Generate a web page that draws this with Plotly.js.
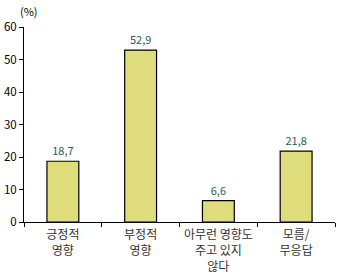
<!DOCTYPE html>
<html>
<head>
<meta charset="utf-8">
<script src="https://cdn.plot.ly/plotly-3.0.1.min.js"></script>
<style>html,body{margin:0;padding:0;background:#fff;}#chart{width:340px;height:275px;}</style>
</head>
<body>
<div id="chart"></div>
<script>
var categories = ["긍정적<br>영향", "부정적<br>영향", "아무런 영향도<br>주고 있지<br>않다", "모름/<br>무응답"];
var values = [18.7, 52.9, 6.6, 21.8];
var yTicks = [0, 10, 20, 30, 40, 50, 60];

var font = "Noto Sans CJK KR, DejaVu Sans, sans-serif";

Plotly.newPlot("chart", [{
  type: "bar",
  x: categories,
  y: values,
  marker: {color: "#DEDC7B", line: {color: "#000", width: 1.2}},
  texttemplate: "%{y:.1f}",
  textposition: "outside",
  cliponaxis: false,
  textfont: {family: font, size: 11, color: "#275d55"},
  hoverinfo: "none"
}], {
  width: 340, height: 275,
  margin: {l: 24, r: 5, t: 27, b: 53},
  separators: ", ",
  bargap: 0.59,
  paper_bgcolor: "#fff", plot_bgcolor: "#fff",
  showlegend: false,
  font: {family: font, size: 12, color: "#333"},
  xaxis: {
    type: "category",
    tickson: "boundaries",
    tickangle: 0,
    automargin: false,
    ticklabelstandoff: 2,
    ticks: "outside", ticklen: 4, tickcolor: "#000",
    showline: true, linecolor: "#000", linewidth: 1,
    showgrid: false, zeroline: false,
    tickfont: {family: font, size: 12, color: "#333"},
    fixedrange: true
  },
  yaxis: {
    range: [0, 60],
    tickvals: yTicks,
    ticks: "outside", ticklen: 4, tickcolor: "#000",
    showline: true, linecolor: "#000", linewidth: 1,
    showgrid: false, zeroline: false,
    automargin: false,
    tickfont: {family: font, size: 11.5, color: "#000"},
    fixedrange: true
  },
  annotations: [{
    text: "(%)", xref: "paper", yref: "paper", x: -0.02, y: 1.03,
    xanchor: "left", yanchor: "bottom", showarrow: false,
    font: {family: font, size: 11, color: "#000"}
  }]
}, {displayModeBar: false, staticPlot: true});
</script>
</body>
</html>
